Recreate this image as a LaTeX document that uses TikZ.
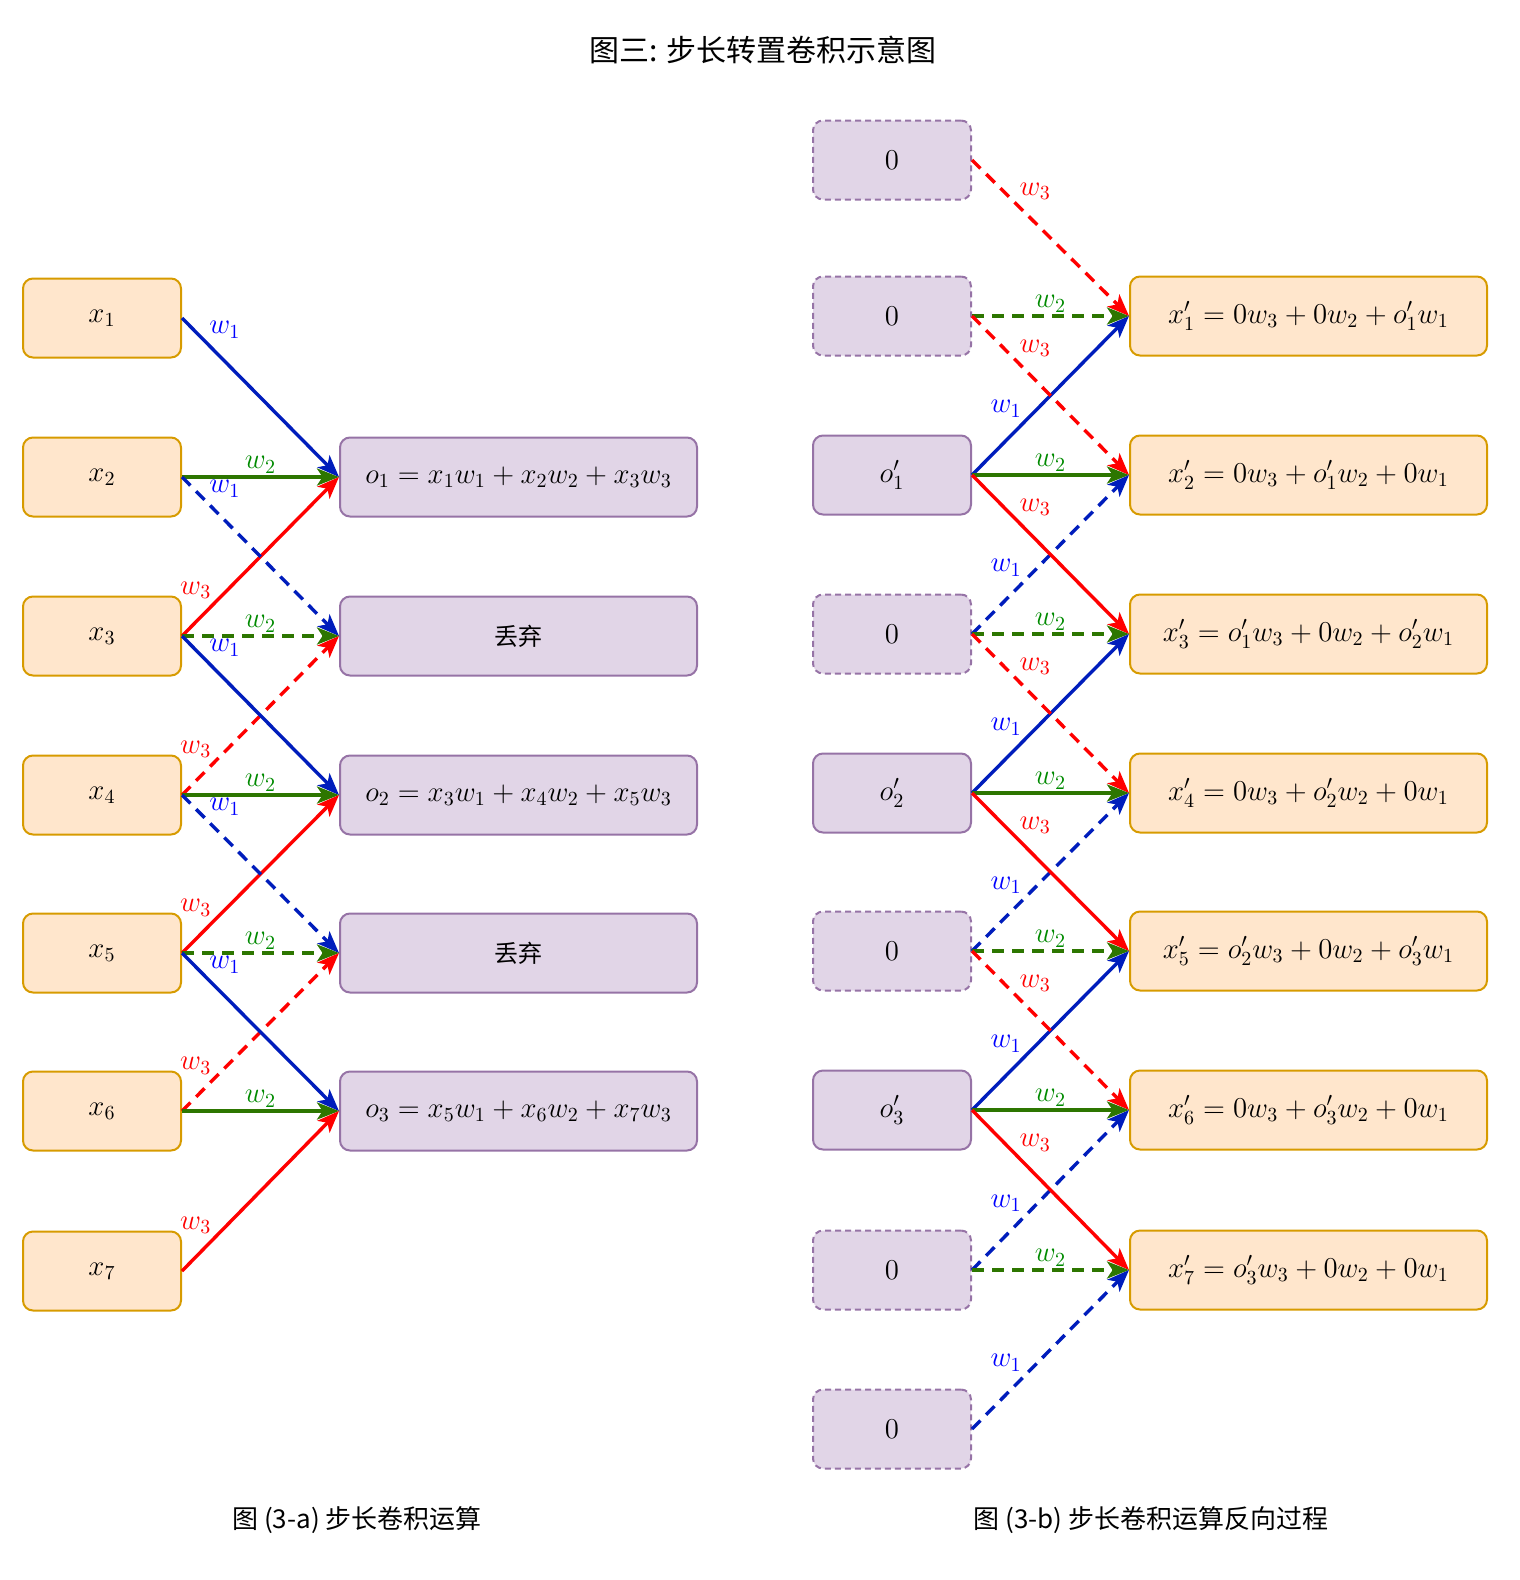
\documentclass[tikz,border=0pt]{standalone}
\usepackage{fontspec}
\newfontfamily\cjk{Noto Sans CJK SC}
\usetikzlibrary{arrows.meta}

\definecolor{xfill}{HTML}{FFE6CC}
\definecolor{xline}{HTML}{D79B00}
\definecolor{ofill}{HTML}{E1D5E7}
\definecolor{oline}{HTML}{9673A6}
\definecolor{wblue}{HTML}{001DBC}
\definecolor{wgreen}{HTML}{2D7600}
\definecolor{wred}{HTML}{FF0000}
\definecolor{lblue}{HTML}{0000FF}
\definecolor{lgreen}{HTML}{008A00}

\def\mathsz{\fontsize{14.8pt}{17pt}\selectfont}
\def\labsz{\fontsize{14pt}{16pt}\selectfont}

\tikzset{
  box/.style={rounded corners=5pt, line width=1pt, minimum height=39.5pt, inner sep=0pt, font=\mathsz},
  xbox/.style={box, draw=xline, fill=xfill, minimum width=79pt},
  xwide/.style={box, draw=xline, fill=xfill, minimum width=178.5pt},
  obox/.style={box, draw=oline, fill=ofill, minimum width=79pt},
  owide/.style={box, draw=oline, fill=ofill, minimum width=178.5pt},
  zbox/.style={obox, dash pattern=on 3pt off 2pt},
  link/.style={line width=1.7pt, -{Stealth[length=11pt,width=8.5pt,inset=2.8pt]}},
  wone/.style={link, wblue},
  wtwo/.style={link, wgreen},
  wthree/.style={link, wred},
  dashy/.style={dash pattern=on 6pt off 4pt},
  lab/.style={inner sep=1pt, font=\labsz},
  lone/.style={lab, text=lblue},
  ltwo/.style={lab, text=lgreen, pos=0.5, anchor=south},
  lthree/.style={lab, text=wred},
  ldn/.style={pos=#1, anchor=south west},
  lup/.style={pos=#1, anchor=south east},
}

\begin{document}
\begin{tikzpicture}[x=0.5pt, y=-0.5pt]
	%%%%% START %%%%%
	\useasboundingbox (0,0) rectangle (1520,1580);

	\node[font=\cjk\fontsize{15pt}{18pt}\selectfont] (title) at (763,50) {图三: 步长转置卷积示意图};

	% left: strided convolution
	\node[xbox] (x1) at (102,318) {$x_1$};
	\node[xbox] (x2) at (102,477) {$x_2$};
	\node[xbox] (x3) at (102,636) {$x_3$};
	\node[xbox] (x4) at (102,795) {$x_4$};
	\node[xbox] (x5) at (102,953) {$x_5$};
	\node[xbox] (x6) at (102,1111) {$x_6$};
	\node[xbox] (x7) at (102,1271) {$x_7$};

	\node[owide] (o1) at (518.5,477) {$o_1 = x_1w_1 + x_2w_2 + x_3w_3$};
	\node[owide, font=\cjk\fontsize{12pt}{14pt}\selectfont] (drop1) at (518.5,636) {丢弃};
	\node[owide] (o2) at (518.5,795) {$o_2 = x_3w_1 + x_4w_2 + x_5w_3$};
	\node[owide, font=\cjk\fontsize{12pt}{14pt}\selectfont] (drop2) at (518.5,953) {丢弃};
	\node[owide] (o3) at (518.5,1111) {$o_3 = x_5w_1 + x_6w_2 + x_7w_3$};

	\draw[wone] (x1.east) -- node[lone, ldn=0.15] {$w_1$} (o1.west);
	\draw[wtwo] (x2.east) -- node[ltwo] {$w_2$} (o1.west);
	\draw[wthree] (x3.east) -- node[lthree, lup=0.21] {$w_3$} (o1.west);

	\draw[wone, dashy] (x2.east) -- node[lone, ldn=0.15] {$w_1$} (drop1.west);
	\draw[wtwo, dashy] (x3.east) -- node[ltwo] {$w_2$} (drop1.west);
	\draw[wthree, dashy] (x4.east) -- node[lthree, lup=0.21] {$w_3$} (drop1.west);

	\draw[wone] (x3.east) -- node[lone, ldn=0.15] {$w_1$} (o2.west);
	\draw[wtwo] (x4.east) -- node[ltwo] {$w_2$} (o2.west);
	\draw[wthree] (x5.east) -- node[lthree, lup=0.21] {$w_3$} (o2.west);

	\draw[wone, dashy] (x4.east) -- node[lone, ldn=0.15] {$w_1$} (drop2.west);
	\draw[wtwo, dashy] (x5.east) -- node[ltwo] {$w_2$} (drop2.west);
	\draw[wthree, dashy] (x6.east) -- node[lthree, lup=0.21] {$w_3$} (drop2.west);

	\draw[wone] (x5.east) -- node[lone, ldn=0.15] {$w_1$} (o3.west);
	\draw[wtwo] (x6.east) -- node[ltwo] {$w_2$} (o3.west);
	\draw[wthree] (x7.east) -- node[lthree, lup=0.21] {$w_3$} (o3.west);

	\node[font=\cjk\fontsize{13pt}{16pt}\selectfont] (capa) at (357,1520) {图 (3-a) 步长卷积运算};

	% right: backward pass
	\node[zbox] (s0) at (892,160) {$0$};
	\node[zbox] (s1) at (892,316) {$0$};
	\node[obox] (s2) at (892,475) {$o'_1$};
	\node[zbox] (s3) at (892,634) {$0$};
	\node[obox] (s4) at (892,793) {$o'_2$};
	\node[zbox] (s5) at (892,951) {$0$};
	\node[obox] (s6) at (892,1110) {$o'_3$};
	\node[zbox] (s7) at (892,1270) {$0$};
	\node[zbox] (s8) at (892,1429) {$0$};

	\node[xwide] (t1) at (1308.5,316) {$x'_1 = 0w_3 + 0w_2 + o'_1w_1$};
	\node[xwide] (t2) at (1308.5,475) {$x'_2 = 0w_3 + o'_1w_2 + 0w_1$};
	\node[xwide] (t3) at (1308.5,634) {$x'_3 = o'_1w_3 + 0w_2 + o'_2w_1$};
	\node[xwide] (t4) at (1308.5,793) {$x'_4 = 0w_3 + o'_2w_2 + 0w_1$};
	\node[xwide] (t5) at (1308.5,951) {$x'_5 = o'_2w_3 + 0w_2 + o'_3w_1$};
	\node[xwide] (t6) at (1308.5,1110) {$x'_6 = 0w_3 + o'_3w_2 + 0w_1$};
	\node[xwide] (t7) at (1308.5,1270) {$x'_7 = o'_3w_3 + 0w_2 + 0w_1$};

	\draw[wthree, dashy] (s0.east) -- node[lthree, ldn=0.28] {$w_3$} (t1.west);
	\draw[wtwo, dashy] (s1.east) -- node[ltwo] {$w_2$} (t1.west);
	\draw[wone] (s2.east) -- node[lone, lup=0.34] {$w_1$} (t1.west);

	\draw[wthree, dashy] (s1.east) -- node[lthree, ldn=0.28] {$w_3$} (t2.west);
	\draw[wtwo] (s2.east) -- node[ltwo] {$w_2$} (t2.west);
	\draw[wone, dashy] (s3.east) -- node[lone, lup=0.34] {$w_1$} (t2.west);

	\draw[wthree] (s2.east) -- node[lthree, ldn=0.28] {$w_3$} (t3.west);
	\draw[wtwo, dashy] (s3.east) -- node[ltwo] {$w_2$} (t3.west);
	\draw[wone] (s4.east) -- node[lone, lup=0.34] {$w_1$} (t3.west);

	\draw[wthree, dashy] (s3.east) -- node[lthree, ldn=0.28] {$w_3$} (t4.west);
	\draw[wtwo] (s4.east) -- node[ltwo] {$w_2$} (t4.west);
	\draw[wone, dashy] (s5.east) -- node[lone, lup=0.34] {$w_1$} (t4.west);

	\draw[wthree] (s4.east) -- node[lthree, ldn=0.28] {$w_3$} (t5.west);
	\draw[wtwo, dashy] (s5.east) -- node[ltwo] {$w_2$} (t5.west);
	\draw[wone] (s6.east) -- node[lone, lup=0.34] {$w_1$} (t5.west);

	\draw[wthree, dashy] (s5.east) -- node[lthree, ldn=0.28] {$w_3$} (t6.west);
	\draw[wtwo] (s6.east) -- node[ltwo] {$w_2$} (t6.west);
	\draw[wone, dashy] (s7.east) -- node[lone, lup=0.34] {$w_1$} (t6.west);

	\draw[wthree] (s6.east) -- node[lthree, ldn=0.28] {$w_3$} (t7.west);
	\draw[wtwo, dashy] (s7.east) -- node[ltwo] {$w_2$} (t7.west);
	\draw[wone, dashy] (s8.east) -- node[lone, lup=0.34] {$w_1$} (t7.west);

	\node[font=\cjk\fontsize{13pt}{16pt}\selectfont] (capb) at (1151,1520) {图 (3-b) 步长卷积运算反向过程};
	%%%%% END %%%%%
\end{tikzpicture}
\end{document}
